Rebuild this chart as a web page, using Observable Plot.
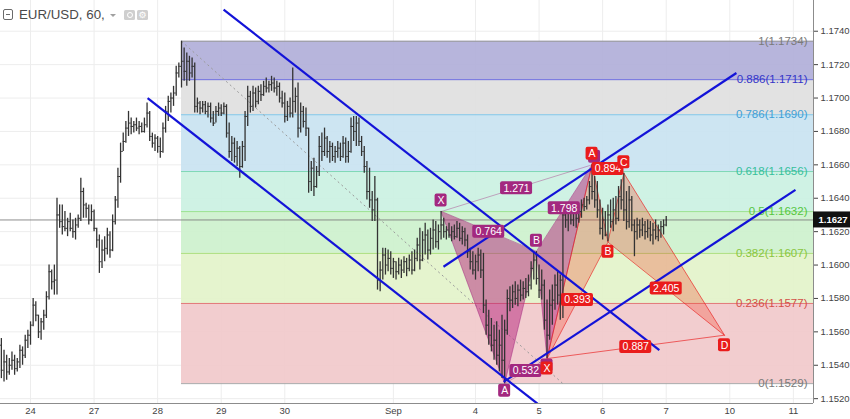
<!DOCTYPE html>
<html>
<head>
<meta charset="utf-8">
<script src="https://cdn.jsdelivr.net/npm/d3@7"></script>
<script src="https://cdn.jsdelivr.net/npm/@observablehq/plot@0.6"></script>
<style>
  html,body{margin:0;padding:0;background:#fff;}
  #wrap{position:relative;width:850px;height:419px;overflow:hidden;background:#fff;}
  #hdr{position:absolute;left:0;top:0;width:160px;height:28px;font-family:"Liberation Sans",Arial,sans-serif;}
  #hdr .col{position:absolute;left:3px;top:9px;width:8px;height:9px;border:1.4px solid #6a6a6a;border-radius:2px;}
  #hdr .col::after{content:"";position:absolute;left:2px;right:2px;top:4px;height:1.4px;background:#6a6a6a;}
  #hdr .ttl{position:absolute;left:19px;top:7px;font-size:13.3px;color:#4a4a4a;white-space:nowrap;}
  #hdr .caret{position:absolute;left:110px;top:14px;width:0;height:0;border-left:3px solid transparent;border-right:3px solid transparent;border-top:3.5px solid #a0a0a0;}
  #hdr .ib{position:absolute;top:10px;width:11px;height:10px;background:#cfcfcf;border-radius:1.5px;color:#fff;font-size:9px;line-height:10px;text-align:center;font-family:"DejaVu Sans",sans-serif;overflow:hidden;}
  #hdr .eye{position:absolute;left:2.5px;top:2px;width:4px;height:4px;border:1.2px solid #fff;border-radius:50%;}
</style>
</head>
<body>
<div id="wrap">
  <div id="hdr">
    <div class="col"></div>
    <div class="ttl">EUR/USD, 60,</div>
    <div class="caret"></div>
    <div class="ib" style="left:124px"><div class="eye"></div></div>
    <div class="ib" style="left:137px">⚙</div>
  </div>
</div>
<script>
// ---------- DATA ----------
// hourly bars, bar index of first bar (Aug 24 00:00 = 0)
const firstBar = -11;
const O = [1.1552,1.1537,1.1542,1.1536,1.1540,1.1543,1.1538,1.1542,1.1549,1.1546,1.1555,
1.1558,1.1564,1.1576,1.1570,1.1560,1.1566,1.1570,1.1581,1.1596,1.1590,
1.1591,1.1630,1.1626,1.1623,1.1622,1.1626,1.1622,1.1620,1.1624,1.1628,
1.1644,1.1636,1.1634,1.1627,1.1632,1.1622,1.1615,1.1602,1.1609,1.1610,
1.1618,1.1609,1.1626,1.1639,1.1653,1.1668,1.1674,1.1682,1.1685,1.1683,
1.1684,1.1682,1.1683,1.1680,1.1684,1.1691,1.1677,1.1673,1.1676,1.1671,
1.1668,1.1682,1.1692,1.1698,1.1700,1.1703,1.1715,1.1719,1.1722,1.1716,
1.1722,1.1715,1.1719,1.1695,1.1697,1.1694,1.1696,1.1692,1.1695,1.1688,
1.1685,1.1692,1.1694,1.1691,1.1695,1.1679,1.1668,1.1673,1.1665,1.1670,
1.1659,1.1671,1.1689,1.1701,1.1695,1.1703,1.1698,1.1704,1.1702,1.1707,
1.1706,1.1708,1.1709,1.1706,1.1707,1.1700,1.1697,1.1689,1.1695,1.1691,
1.1698,1.1701,1.1682,1.1692,1.1686,1.1682,1.1650,1.1658,1.1647,1.1656,
1.1671,1.1668,1.1676,1.1668,1.1671,1.1665,1.1668,1.1670,1.1665,1.1673,
1.1665,1.1668,1.1683,1.1680,1.1685,1.1674,1.1668,1.1659,1.1644,1.1639,
1.1633,1.1639,1.1591,1.1597,1.1606,1.1600,1.1604,1.1598,1.1602,1.1596,
1.1600,1.1597,1.1602,1.1598,1.1603,1.1597,1.1604,1.1612,1.1603,1.1615,
1.1618,1.1609,1.1616,1.1621,1.1614,1.1620,1.1624,1.1620,1.1621,1.1618,
1.1620,1.1617,1.1622,1.1616,1.1620,1.1615,1.1608,1.1602,1.1597,1.1602,
1.1606,1.1597,1.1576,1.1564,1.1558,1.1552,1.1555,1.1546,1.1552,1.1543,
1.1561,1.1580,1.1579,1.1584,1.1580,1.1585,1.1582,1.1586,1.1584,1.1588,
1.1598,1.1603,1.1592,1.1585,1.1588,1.1567,1.1558,1.1576,1.1579,1.1588,
1.1582,1.1591,1.1630,1.1627,1.1632,1.1627,1.1633,1.1628,1.1632,1.1636,
1.1635,1.1639,1.1647,1.1644,1.1639,1.1633,1.1622,1.1627,1.1618,1.1630,
1.1626,1.1633,1.1628,1.1641,1.1639,1.1633,1.1626,1.1639,1.1624,1.1620,
1.1624,1.1621,1.1624,1.1620,1.1622,1.1618,1.1621,1.1617,1.1621,1.1623,1.1624];
const H = [1.1556,1.1549,1.1546,1.1544,1.1548,1.1546,1.1544,1.1552,1.1551,1.1558,1.1561,
1.1566,1.1580,1.1578,1.1570,1.1568,1.1573,1.1584,1.1600,1.1597,1.1600,
1.1640,1.1636,1.1636,1.1632,1.1628,1.1631,1.1627,1.1628,1.1630,1.1652,
1.1646,1.1637,1.1636,1.1636,1.1633,1.1622,1.1618,1.1615,1.1617,1.1622,
1.1620,1.1630,1.1641,1.1658,1.1673,1.1679,1.1686,1.1692,1.1688,1.1686,
1.1688,1.1686,1.1685,1.1688,1.1697,1.1692,1.1679,1.1678,1.1677,1.1676,
1.1685,1.1695,1.1701,1.1703,1.1707,1.1719,1.1721,1.1734,1.1730,1.1727,
1.1725,1.1724,1.1721,1.1700,1.1698,1.1698,1.1698,1.1697,1.1697,1.1692,
1.1695,1.1697,1.1696,1.1697,1.1696,1.1685,1.1677,1.1676,1.1674,1.1671,
1.1674,1.1692,1.1707,1.1704,1.1707,1.1706,1.1707,1.1708,1.1710,1.1712,
1.1710,1.1713,1.1712,1.1710,1.1709,1.1704,1.1703,1.1698,1.1700,1.1718,
1.1706,1.1709,1.1697,1.1695,1.1694,1.1682,1.1662,1.1664,1.1659,1.1677,
1.1679,1.1682,1.1677,1.1674,1.1673,1.1671,1.1674,1.1673,1.1677,1.1676,
1.1674,1.1688,1.1689,1.1689,1.1688,1.1677,1.1671,1.1662,1.1658,1.1644,
1.1653,1.1640,1.1602,1.1610,1.1610,1.1609,1.1608,1.1604,1.1602,1.1604,
1.1603,1.1605,1.1604,1.1606,1.1608,1.1609,1.1616,1.1622,1.1620,1.1625,
1.1621,1.1622,1.1627,1.1626,1.1624,1.1632,1.1628,1.1623,1.1625,1.1623,
1.1624,1.1626,1.1625,1.1623,1.1622,1.1618,1.1610,1.1608,1.1606,1.1610,
1.1609,1.1607,1.1579,1.1573,1.1568,1.1564,1.1566,1.1561,1.1570,1.1567,
1.1585,1.1587,1.1588,1.1590,1.1588,1.1591,1.1590,1.1592,1.1594,1.1602,
1.1608,1.1608,1.1600,1.1597,1.1591,1.1579,1.1585,1.1588,1.1594,1.1596,
1.1594,1.1636,1.1636,1.1634,1.1635,1.1637,1.1635,1.1636,1.1639,1.1640,
1.1641,1.1650,1.1660,1.1653,1.1650,1.1639,1.1634,1.1632,1.1636,1.1639,
1.1640,1.1641,1.1647,1.1651,1.1655,1.1644,1.1647,1.1641,1.1627,1.1628,
1.1627,1.1628,1.1626,1.1627,1.1626,1.1625,1.1627,1.1624,1.1626,1.1627,1.1629];
const L = [1.1532,1.1530,1.1531,1.1534,1.1537,1.1534,1.1536,1.1538,1.1540,1.1544,1.1550,
1.1552,1.1563,1.1566,1.1556,1.1555,1.1561,1.1568,1.1579,1.1585,1.1582,
1.1582,1.1622,1.1618,1.1620,1.1617,1.1620,1.1616,1.1615,1.1622,1.1626,
1.1628,1.1628,1.1624,1.1626,1.1620,1.1610,1.1595,1.1598,1.1602,1.1606,
1.1604,1.1608,1.1624,1.1634,1.1649,1.1668,1.1673,1.1677,1.1678,1.1679,
1.1680,1.1678,1.1679,1.1679,1.1682,1.1674,1.1670,1.1668,1.1667,1.1664,
1.1667,1.1679,1.1686,1.1691,1.1695,1.1701,1.1712,1.1706,1.1710,1.1707,
1.1710,1.1712,1.1691,1.1691,1.1690,1.1691,1.1690,1.1688,1.1685,1.1683,
1.1685,1.1689,1.1689,1.1690,1.1676,1.1664,1.1662,1.1661,1.1659,1.1652,
1.1658,1.1662,1.1683,1.1691,1.1692,1.1694,1.1696,1.1698,1.1701,1.1703,
1.1703,1.1704,1.1703,1.1701,1.1697,1.1694,1.1685,1.1686,1.1688,1.1688,
1.1691,1.1676,1.1679,1.1682,1.1677,1.1643,1.1644,1.1641,1.1646,1.1653,
1.1662,1.1665,1.1664,1.1661,1.1662,1.1661,1.1664,1.1662,1.1664,1.1661,
1.1661,1.1667,1.1674,1.1671,1.1671,1.1665,1.1655,1.1639,1.1634,1.1626,
1.1626,1.1585,1.1584,1.1591,1.1594,1.1596,1.1594,1.1592,1.1591,1.1594,
1.1592,1.1595,1.1593,1.1596,1.1594,1.1596,1.1602,1.1597,1.1602,1.1606,
1.1603,1.1606,1.1609,1.1610,1.1609,1.1615,1.1616,1.1615,1.1616,1.1614,
1.1615,1.1616,1.1614,1.1612,1.1611,1.1604,1.1597,1.1594,1.1591,1.1596,
1.1592,1.1571,1.1558,1.1552,1.1548,1.1543,1.1540,1.1536,1.1532,1.1529,
1.1558,1.1572,1.1574,1.1576,1.1575,1.1578,1.1579,1.1580,1.1581,1.1585,
1.1591,1.1588,1.1580,1.1579,1.1561,1.1544,1.1555,1.1564,1.1573,1.1576,
1.1567,1.1568,1.1622,1.1620,1.1624,1.1623,1.1622,1.1625,1.1628,1.1632,
1.1633,1.1636,1.1639,1.1634,1.1628,1.1618,1.1615,1.1617,1.1614,1.1622,
1.1620,1.1624,1.1626,1.1633,1.1626,1.1621,1.1622,1.1620,1.1605,1.1615,
1.1616,1.1617,1.1615,1.1616,1.1614,1.1612,1.1615,1.1614,1.1616,1.1618,1.1623];
const C = [1.1537,1.1542,1.1536,1.1540,1.1543,1.1538,1.1542,1.1549,1.1546,1.1555,1.1558,
1.1564,1.1576,1.1570,1.1560,1.1566,1.1570,1.1581,1.1596,1.1590,1.1591,
1.1630,1.1626,1.1623,1.1622,1.1626,1.1622,1.1620,1.1624,1.1628,1.1644,
1.1636,1.1634,1.1627,1.1632,1.1622,1.1615,1.1602,1.1609,1.1610,1.1618,
1.1609,1.1626,1.1639,1.1653,1.1668,1.1674,1.1682,1.1685,1.1683,1.1684,
1.1682,1.1683,1.1680,1.1684,1.1691,1.1677,1.1673,1.1676,1.1671,1.1668,
1.1682,1.1692,1.1698,1.1700,1.1703,1.1715,1.1719,1.1722,1.1716,1.1722,
1.1715,1.1719,1.1695,1.1697,1.1694,1.1696,1.1692,1.1695,1.1688,1.1685,
1.1692,1.1694,1.1691,1.1695,1.1679,1.1668,1.1673,1.1665,1.1670,1.1659,
1.1671,1.1689,1.1701,1.1695,1.1703,1.1698,1.1704,1.1702,1.1707,1.1706,
1.1708,1.1709,1.1706,1.1707,1.1700,1.1697,1.1689,1.1695,1.1691,1.1698,
1.1701,1.1682,1.1692,1.1686,1.1682,1.1650,1.1658,1.1647,1.1656,1.1671,
1.1668,1.1676,1.1668,1.1671,1.1665,1.1668,1.1670,1.1665,1.1673,1.1665,
1.1668,1.1683,1.1680,1.1685,1.1674,1.1668,1.1659,1.1644,1.1639,1.1633,
1.1639,1.1591,1.1597,1.1606,1.1600,1.1604,1.1598,1.1602,1.1596,1.1600,
1.1597,1.1602,1.1598,1.1603,1.1597,1.1604,1.1612,1.1603,1.1615,1.1618,
1.1609,1.1616,1.1621,1.1614,1.1620,1.1624,1.1620,1.1621,1.1618,1.1620,
1.1617,1.1622,1.1616,1.1620,1.1615,1.1608,1.1602,1.1597,1.1602,1.1606,
1.1597,1.1576,1.1564,1.1558,1.1552,1.1555,1.1546,1.1552,1.1543,1.1561,
1.1580,1.1579,1.1584,1.1580,1.1585,1.1582,1.1586,1.1584,1.1588,1.1598,
1.1603,1.1592,1.1585,1.1588,1.1567,1.1558,1.1576,1.1579,1.1588,1.1582,
1.1591,1.1630,1.1627,1.1632,1.1627,1.1633,1.1628,1.1632,1.1636,1.1635,
1.1639,1.1647,1.1644,1.1639,1.1633,1.1622,1.1627,1.1618,1.1630,1.1626,
1.1633,1.1628,1.1641,1.1639,1.1633,1.1626,1.1639,1.1624,1.1620,1.1624,
1.1621,1.1624,1.1620,1.1622,1.1618,1.1621,1.1617,1.1621,1.1623,1.1624,1.1627];

// axis ticks
const dayTicks  = [0, 24, 48, 72, 96, 137, 168, 192, 216, 240, 264, 288];
const dayLabels = ["24","27","28","29","30","Sep","4","5","6","7","10","11"];
const priceTicks = [1.152,1.154,1.156,1.158,1.160,1.162,1.164,1.166,1.168,1.170,1.172,1.174];
const lastPrice = 1.1627;

// Fibonacci retracement
const fibLevels = [1, 0.886, 0.786, 0.618, 0.5, 0.382, 0.236, 0];
const fibPrices = [1.1734, 1.1711, 1.1690, 1.1656, 1.1632, 1.1607, 1.1577, 1.1529];
const fibAnchorBars = [57, 201];

// blue channel lines [bar1, price1, bar2, price2]
const channelBar1   = [72.9, 44.2, 155.9, 178.6];
const channelPrice1 = [1.1753, 1.1700, 1.1599, 1.1530];
const channelBar2   = [237.4, 191.4, 266.5, 288.8];
const channelPrice2 = [1.1549, 1.1517, 1.1715, 1.1645];

// harmonic patterns (X, A, B, C, D)
const pointNames = ["X","A","B","C","D"];
const magBars   = [155, 179, 191, 195, 212];
const magPrices = [1.1632, 1.1529, 1.1608, 1.1544, 1.1660];
const magRatios = ["0.764", "0.532", "1.798", "1.271"];   // XB, AC, BD, XD
const redBars   = [195, 212, 218, 224, 262];
const redPrices = [1.1544, 1.1660, 1.1614, 1.1655, 1.1558];
const redRatios = ["0.393", "0.894", "2.405", "0.887"];

// ---------- STYLE ----------
const xMin = -11.33, xMax = 295.6, yMin = 1.15171, yMax = 1.17584;
const bandFills  = ["#b1afd9","#e0e0e0","#c9e3f1","#cbf1e2","#cdf1cd","#e3f3ca","#f1c9cb"];
const lineColors = ["#9a9a9a","#6a6ae0","#84c6e6","#7fd8b6","#9be391","#a8dd7a","#e27a7a","#a8a8a8"];
const textColors = ["#7a7a7a","#3535c8","#3f9fd6","#36c09c","#55c63f","#8ac53f","#d44f47","#7a7a7a"];
const MAG = "#a3287f", MAGFILL = "#b4247c";
const RED = "#ea1c1c", REDFILL = "#f2452b";
const BLUE = "#1313d8";

// ---------- DERIVED ----------
const bars = O.map((o, k) => ({i: firstBar + k, o, h: H[k], l: L[k], c: C[k]}));
const fib = fibLevels.map((lv, k) => ({lv, p: fibPrices[k], text: `${lv}(${fibPrices[k].toFixed(4)})`, k}));
const bands = fib.slice(0, -1).map((f, k) => ({top: f.p, bottom: fib[k + 1].p, fill: bandFills[k]}));
const channels = channelBar1.map((b, k) => ({x1: b, y1: channelPrice1[k], x2: channelBar2[k], y2: channelPrice2[k]}));
const pts = (B, P) => pointNames.map((n, k) => ({n, i: B[k], p: P[k], k}));
const mag = pts(magBars, magPrices), red = pts(redBars, redPrices);
const tris = (P, id) => [[0,1,2],[2,3,4]].flatMap((t, j) => t.map(k => ({...P[k], id: id + j})));
const ratioLinks = (P, R) => [[0,2],[1,3],[2,4],[0,4]].map(([a,b], k) => ({
  i1: P[a].i, p1: P[a].p, i2: P[b].i, p2: P[b].p, t: R[k],
  i: (P[a].i + P[b].i) / 2, p: (P[a].p + P[b].p) / 2}));
const magLinks = ratioLinks(mag, magRatios), redLinks = ratioLinks(red, redRatios);
// peaks (label above) / troughs (label below)
const magUp = mag.filter(d => d.k % 2 === 0), magDown = mag.filter(d => d.k % 2 === 1);
const redUp = red.filter(d => d.k % 2 === 1), redDown = red.filter(d => d.k % 2 === 0);
// magenta C and D tags sit under the red X and A tags: only their boxes peek out
const hiddenUnder = new Set(["C", "D"]);
const dayLabelOf = new Map(dayTicks.map((t, k) => [t, dayLabels[k]]));

function letterBoxes(data, fill, dy, hide = new Set(), dx = 0) {
  return [
    Plot.rect(data, {x1: "i", x2: "i", y1: "p", y2: "p", insetLeft: -6, insetRight: -6, insetTop: -6.5, insetBottom: -6.5, rx: 2, fill, dy, dx}),
    Plot.text(data.filter(d => !hide.has(d.n)), {x: "i", y: "p", text: "n", fill: "white", fontSize: 10.5, dy, dx})
  ];
}
function ratioBoxes(data, fill) {
  return [
    Plot.rect(data, {x1: "i", x2: "i", y1: "p", y2: "p", insetLeft: -16, insetRight: -16, insetTop: -6.5, insetBottom: -6.5, rx: 2, fill}),
    Plot.text(data, {x: "i", y: "p", text: "t", fill: "white", fontSize: 10.5})
  ];
}

const chart = Plot.plot({
  width: 850, height: 419,
  marginLeft: 0, marginRight: 37, marginTop: 0, marginBottom: 16,
  x: {domain: [xMin, xMax], label: null},
  y: {domain: [yMin, yMax], label: null},
  style: {fontFamily: "'Liberation Sans', Arial, sans-serif", background: "transparent", overflow: "visible"},
  marks: [
    Plot.gridX(dayTicks, {stroke: "#ededed", strokeOpacity: 1}),
    Plot.gridY(priceTicks, {stroke: "#ededed", strokeOpacity: 1}),
    // fib bands
    ...bands.map(b => Plot.rect([b], {x1: fibAnchorBars[0], x2: xMax, y1: "top", y2: "bottom", fill: b.fill, fillOpacity: 0.92})),
    ...fib.map(f => Plot.ruleY([f], {y: "p", x1: fibAnchorBars[0], x2: xMax, stroke: lineColors[f.k], strokeWidth: 1})),
    ...fib.map(f => Plot.text([f], {x: xMax, y: "p", text: "text", textAnchor: "end", dx: -6, fill: textColors[f.k], fontSize: 11.5})),
    Plot.link([0], {x1: fibAnchorBars[0], y1: fibPrices[0], x2: fibAnchorBars[1], y2: fibPrices[fibPrices.length - 1],
      stroke: "#9a9a9a", strokeDasharray: "2,3", strokeWidth: 1}),
    // last price line
    Plot.ruleY([lastPrice], {stroke: "#7a7a7a", strokeWidth: 1, strokeOpacity: 0.85}),
    // harmonic triangles
    Plot.line(tris(mag, "m"), {x: "i", y: "p", z: "id", curve: "linear-closed", fill: MAGFILL, fillOpacity: 0.5, stroke: MAG, strokeOpacity: 0.5, strokeWidth: 1}),
    Plot.line(tris(red, "r"), {x: "i", y: "p", z: "id", curve: "linear-closed", fill: REDFILL, fillOpacity: 0.3, stroke: RED, strokeOpacity: 0.65, strokeWidth: 1}),
    Plot.link(magLinks.filter((d, k) => k % 2 === 1), {x1: "i1", y1: "p1", x2: "i2", y2: "p2", stroke: MAG, strokeOpacity: 0.4, strokeWidth: 1}),
    Plot.link(redLinks.filter((d, k) => k % 2 === 1), {x1: "i1", y1: "p1", x2: "i2", y2: "p2", stroke: RED, strokeOpacity: 0.65, strokeWidth: 1}),
    // OHLC bars
    Plot.ruleX(bars, {x: "i", y1: "l", y2: "h", stroke: "#333", strokeWidth: 1.3}),
    Plot.ruleY(bars, {y: "o", x1: d => d.i - 0.5, x2: "i", stroke: "#333", strokeWidth: 1}),
    Plot.ruleY(bars, {y: "c", x1: "i", x2: d => d.i + 0.5, stroke: "#333", strokeWidth: 1}),
    // blue channels
    Plot.link(channels, {x1: "x1", y1: "y1", x2: "x2", y2: "y2", stroke: BLUE, strokeWidth: 2.2, clip: true}),
    // frame & axes
    Plot.ruleY([yMin], {stroke: "#8c8c8c", strokeWidth: 1}),
    Plot.ruleX([xMax], {stroke: "#8c8c8c", strokeWidth: 1}),
    Plot.axisX(dayTicks, {tickSize: 0, tickPadding: 4, tickFormat: d => dayLabelOf.get(d), fontSize: 9.5, color: "#444", label: null}),
    Plot.axisY(priceTicks, {anchor: "right", tickSize: 4, tickPadding: 3, tickFormat: d => d.toFixed(4), fontSize: 9.5, color: "#444", label: null}),
    // last price tag
    Plot.rect([lastPrice], {x1: xMax, x2: xMax, y1: d => d, y2: d => d, insetLeft: 0, insetRight: -37, insetTop: -8, insetBottom: -8, fill: "#111"}),
    Plot.text([lastPrice], {x: xMax, y: d => d, text: d => d.toFixed(4), textAnchor: "start", dx: 5, fill: "white", fontSize: 9.5, fontWeight: "bold"}),
    // labels: magenta then red on top
    ...ratioBoxes(magLinks, MAG),
    ...letterBoxes(magUp.filter(d => d.n !== "D"), MAG, -11),
    ...letterBoxes(magUp.filter(d => d.n === "D"), MAG, -8, hiddenUnder, 2.5),
    ...letterBoxes(magDown, MAG, 7, hiddenUnder),
    ...ratioBoxes(redLinks, RED),
    ...letterBoxes(redUp, RED, -11),
    ...letterBoxes(redDown, RED, 10)
  ]
});
document.getElementById("wrap").insertBefore(chart, document.getElementById("hdr"));
chart.style.position = "absolute";
chart.style.left = "0";
chart.style.top = "0";
</script>
</body>
</html>
